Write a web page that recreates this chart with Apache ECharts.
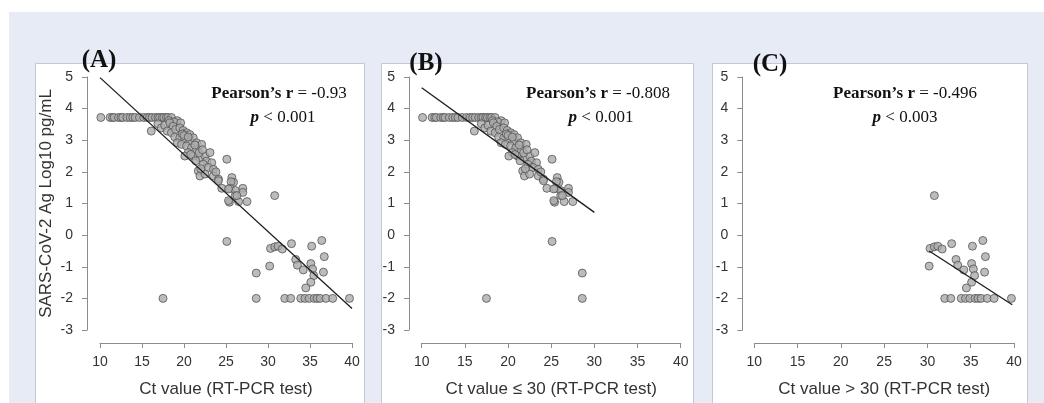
<!DOCTYPE html>
<html>
<head>
<meta charset="utf-8">
<script src="https://cdn.jsdelivr.net/npm/echarts@6/dist/echarts.min.js"></script>
<style>html,body{margin:0;padding:0;background:#fff;}#c{width:1044px;height:403px;}</style>
</head>
<body>
<div id="c"></div>
<script>
// Ct <= 30 observations [Ct value, log10 antigen pg/mL]
const lowCt = [
  [10.1,3.72],[11.2,3.72],[11.5,3.72],[11.7,3.72],[12.2,3.72],[12.5,3.72],[12.7,3.72],[13.2,3.72],
  [13.6,3.72],[13.9,3.72],[14.2,3.72],[14.7,3.72],[15.2,3.72],[15.6,3.72],[15.9,3.72],[16.2,3.72],
  [16.6,3.72],[16.9,3.72],[17.1,3.72],[17.4,3.72],[17.6,3.72],[17.9,3.72],[18.1,3.72],[18.5,3.72],
  [19.2,3.62],[18.2,3.62],[18.8,3.58],[19.6,3.55],[16.1,3.29],[16.9,3.52],[17.3,3.39],[17.7,3.47],
  [18.3,3.55],[18.7,3.44],[18.0,3.29],[18.5,3.24],[19.0,3.34],[19.5,3.39],[19.9,3.31],[20.3,3.24],
  [20.7,3.18],[18.9,3.10],[19.5,3.08],[20.1,3.03],[20.7,2.97],[21.1,3.08],[21.5,2.92],[19.2,2.92],
  [19.7,2.87],[20.3,2.82],[20.9,2.76],[21.5,2.71],[22.1,2.87],[20.5,2.61],[21.1,2.50],[20.1,2.50],
  [21.9,2.45],[22.5,2.50],[23.1,2.61],[22.7,2.34],[23.3,2.29],[22.3,2.24],[22.9,2.14],[23.5,2.08],
  [21.7,2.03],[21.9,1.87],[22.5,1.93],[23.5,1.87],[24.1,1.77],[25.1,2.40],[25.7,1.82],[25.9,1.67],
  [19.8,3.20],[20.0,3.15],[20.5,3.10],[21.3,2.85],[21.8,2.60],[22.2,2.70],[20.8,2.55],[21.4,2.35],
  [22.0,2.10],[23.8,2.00],[24.1,1.72],[25.6,1.69],[24.5,1.48],[25.5,1.48],[26.1,1.41],[27.0,1.48],
  [27.0,1.35],[26.1,1.25],[25.4,1.04],[26.5,1.06],[27.5,1.06],[25.3,1.46],[25.3,1.09],[26.3,1.25],
  [17.5,-2.0],[25.1,-0.2],[28.6,-1.2],[28.6,-2.0]
];
// Ct > 30 observations
const highCt = [
  [30.2,-0.98],[30.3,-0.42],[30.8,-0.37],[31.2,-0.35],[31.7,-0.44],[30.8,1.25],
  [32.8,-0.27],[33.3,-0.77],[33.5,-0.95],[34.2,-1.10],[35.1,-0.90],[35.3,-1.07],[35.45,-1.28],
  [35.1,-1.49],[34.5,-1.67],[35.2,-0.35],[36.4,-0.17],[36.7,-0.68],[36.6,-1.17],
  [32.0,-2],[32.7,-2],[33.9,-2],[34.4,-2],[34.9,-2],[35.5,-2],[35.85,-2],[36.2,-2],[36.9,-2],[37.7,-2],[39.7,-2]
];
// regression line endpoints
const fitA = [[10,4.98],[40,-2.32]];
const fitB = [[10,4.66],[30,0.72]];
const fitC = [[30.2,-0.5],[39.8,-2.2]];
// annotations
const panelTags = ['(A)','(B)','(C)'];
const pearsonR = ['-0.93','-0.808','-0.496'];
const pValues = ['0.001','0.001','0.003'];
const xNames = ['Ct value (RT-PCR test)','Ct value \u2264 30 (RT-PCR test)','Ct value > 30 (RT-PCR test)'];
const yName = 'SARS-CoV-2 Ag Log10 pg/mL';

const chart = echarts.init(document.getElementById('c'));
const grids = [
  {left:100, top:77, width:252, height:255},
  {left:421.7, top:77, width:259, height:255},
  {left:754.3, top:77, width:259.7, height:255}
];
const yOffsets = [13, 12.7, 12];
const axisCol = '#8c8c8c';
const sans = 'Liberation Sans, Arial, sans-serif';
const serif = 'Liberation Serif, Times New Roman, serif';
const xAxes = grids.map((g,i)=>({
  gridIndex:i, type:'value', min:10, max:40, interval:5, position:'bottom', offset:13,
  axisLine:{show:true, onZero:false, lineStyle:{color:axisCol, width:1}},
  axisTick:{show:true, length:5, lineStyle:{color:axisCol}},
  splitLine:{show:false},
  axisLabel:{fontSize:14, color:'#333', margin:12, fontFamily:sans},
  name:xNames[i], nameLocation:'middle', nameGap:38,
  nameTextStyle:{fontSize:17, color:'#333', fontFamily:sans}
}));
const yAxes = grids.map((g,i)=>({
  gridIndex:i, type:'value', min:-3, max:5, interval:1, position:'left', offset:yOffsets[i],
  axisLine:{show:true, onZero:false, lineStyle:{color:axisCol, width:1}},
  axisTick:{show:true, length:5, lineStyle:{color:axisCol}},
  splitLine:{show:false},
  axisLabel:{fontSize:14, color:'#333', margin:14, fontFamily:sans},
  name: i===0 ? yName : '', nameLocation:'middle', nameGap:32,
  nameTextStyle:{fontSize:17, color:'#333', fontFamily:sans}
}));
const pts = [lowCt.concat(highCt), lowCt, highCt];
const fits = [fitA, fitB, fitC];
const series = [];
pts.forEach((d,i)=>{
  series.push({type:'scatter', xAxisIndex:i, yAxisIndex:i, data:d, symbolSize:8, clip:false,
    itemStyle:{color:'#ababab', borderColor:'#555', borderWidth:1}, z:2, silent:true});
  series.push({type:'line', xAxisIndex:i, yAxisIndex:i, data:fits[i], symbol:'none', clip:false,
    lineStyle:{color:'#1c1c1c', width:1.3}, z:3, silent:true});
});
const panels = [[35,329],[381,312],[712,315]];
const tagPos = [[99,61],[426,64],[770,65]];
const pearsonPos = [[279,94],[598,94],[905,94]];
const pPos = [[283,118],[601,118],[905,118]];
const graphic = [
  {type:'rect', shape:{x:9,y:12,width:1040,height:400}, style:{fill:'#e7ebf5'}, z:-10, silent:true}
];
panels.forEach((p,i)=>{
  graphic.push({type:'rect', shape:{x:p[0]+0.5,y:63.5,width:p[1],height:360}, style:{fill:'#fff', stroke:'#c4c8d2', lineWidth:1}, z:-9, silent:true});
});
panelTags.forEach((t,i)=>{
  graphic.push({type:'text', x:tagPos[i][0], y:tagPos[i][1], z:10, silent:true,
    style:{text:t, font:'bold 25px '+serif, fill:'#111', align:'center', verticalAlign:'middle'}});
  graphic.push({type:'text', x:pearsonPos[i][0], y:pearsonPos[i][1], z:10, silent:true,
    style:{text:'{b|Pearson\u2019s r}{n| = '+pearsonR[i]+'}', align:'center', verticalAlign:'middle',
      rich:{b:{font:'bold 17px '+serif, fill:'#111'}, n:{font:'17px '+serif, fill:'#111'}}}});
  graphic.push({type:'text', x:pPos[i][0], y:pPos[i][1], z:10, silent:true,
    style:{text:'{i|p}{n| < '+pValues[i]+'}', align:'center', verticalAlign:'middle',
      rich:{i:{font:'italic bold 17px '+serif, fill:'#111'}, n:{font:'17px '+serif, fill:'#111'}}}});
});
chart.setOption({
  animation:false,
  grid:grids.map(g=>Object.assign({containLabel:false}, g)),
  xAxis:xAxes, yAxis:yAxes, series:series, graphic:graphic
});
</script>
</body>
</html>
